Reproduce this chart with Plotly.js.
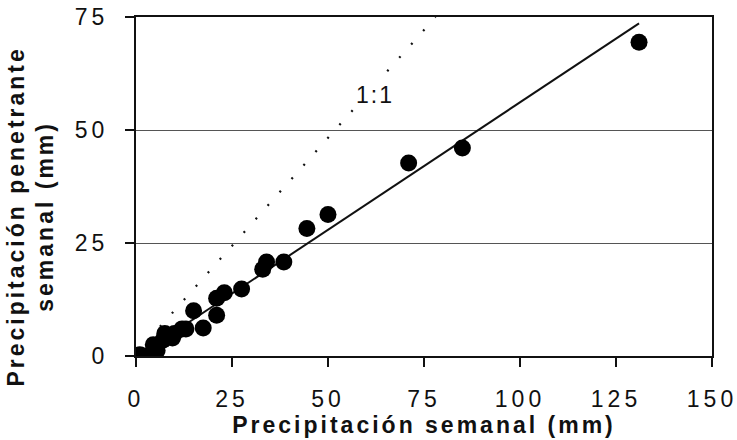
<!DOCTYPE html>
<html>
<head>
<meta charset="utf-8">
<script src="https://cdn.plot.ly/plotly-3.0.1.min.js"></script>
<style>
  html, body { margin: 0; padding: 0; background: #fff; }
  #chart { width: 737px; height: 440px; }
  .xtick text, .ytick text { letter-spacing: 4px; }
  .g-xtitle text, .xtitle { letter-spacing: 3px; }
  .annotation[data-index="0"] text { letter-spacing: 3px; }
  .annotation[data-index="1"] text { letter-spacing: 2px; }
</style>
</head>
<body>
<div id="chart"></div>
<script>
// Observed weekly data (mm)
const precipSemanal = [0, 1, 2, 3.5, 4.5, 5.5, 7, 7.5, 9.5, 10, 12, 13, 15, 17.5, 21, 21, 23, 27.5, 33, 34, 38.5, 44.5, 50, 71, 85, 131];
const precipPenetrante = [0, 0.3, 0, 0, 2.5, 1.2, 3.5, 5, 4, 5, 6, 6, 10, 6.2, 9, 12.8, 14, 14.8, 19.2, 20.8, 20.8, 28.2, 31.3, 42.7, 46, 69.4];

// Regression line endpoints
const regX = [0.5, 131];
const regY = [0, 73.6];

// 1:1 reference line endpoints (as drawn)
const unoX = [0, 78];
const unoY = [0.5, 75];

const xTicks = [0, 25, 50, 75, 100, 125, 150];
const yTicks = [0, 25, 50, 75];

const font = "Liberation Sans, Arial, Helvetica, sans-serif";

const traces = [
  { x: unoX, y: unoY, mode: 'lines', type: 'scatter',
    line: { color: '#111', width: 2.2, dash: '2px,16px' }, hoverinfo: 'skip', showlegend: false },
  { x: regX, y: regY, mode: 'lines', type: 'scatter',
    line: { color: '#111', width: 2 }, showlegend: false },
  { x: precipSemanal, y: precipPenetrante, mode: 'markers', type: 'scatter',
    marker: { color: '#000', size: 17, line: { width: 0 } }, showlegend: false }
];

const layout = {
  width: 737, height: 440,
  margin: { l: 136, r: 25, t: 17, b: 84 },
  paper_bgcolor: '#fff', plot_bgcolor: '#fff',
  font: { family: font, color: '#111', size: 23 },
  xaxis: {
    range: [0, 150], tickvals: xTicks, ticktext: xTicks.map(String),
    showline: true, linecolor: '#111', linewidth: 2, mirror: true,
    ticks: 'outside', ticklen: 9, tickcolor: '#111', tickwidth: 1.5,
    ticklabelstandoff: 12, ticklabeloverflow: 'allow',
    showgrid: false, zeroline: false,
    tickfont: { family: font, size: 23, color: '#111' },
    title: { text: 'Precipitación semanal (mm)', standoff: 0,
             font: { family: font, size: 23, color: '#111', weight: 'bold' } }
  },
  yaxis: {
    range: [0, 75], tickvals: yTicks, ticktext: yTicks.map(String),
    showline: true, linecolor: '#111', linewidth: 2, mirror: true,
    ticks: 'outside', ticklen: 9, tickcolor: '#111', tickwidth: 1.5,
    ticklabelstandoff: 12, ticklabeloverflow: 'allow',
    showgrid: true, gridcolor: '#555', gridwidth: 1, zeroline: false,
    tickfont: { family: font, size: 23, color: '#111' }
  },
  annotations: [
    { text: 'Precipitación penetrante<br>semanal (mm)', xref: 'paper', yref: 'paper',
      x: -0.183, y: 0.41, xanchor: 'center', yanchor: 'middle', textangle: -90,
      showarrow: false, font: { family: font, size: 23, color: '#111', weight: 'bold' } },
    { text: '1:1', xref: 'x', yref: 'y', x: 62.3, y: 57.7, xanchor: 'center', yanchor: 'middle',
      showarrow: false, bgcolor: '#fff', borderpad: 2,
      font: { family: font, size: 23, color: '#111' } }
  ]
};

Plotly.newPlot('chart', traces, layout, { displayModeBar: false, staticPlot: true });
</script>
</body>
</html>
